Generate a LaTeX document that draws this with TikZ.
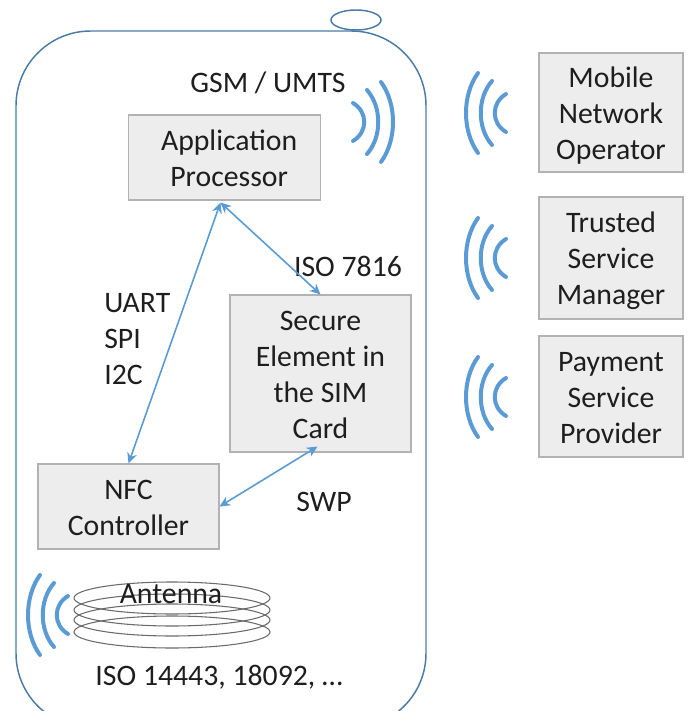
\documentclass[tikz,border=0pt]{standalone}
\usepackage{fontspec}
\setmainfont{Carlito}
\usetikzlibrary{arrows.meta}
\definecolor{boxfill}{HTML}{EDEDED}
\definecolor{boxline}{HTML}{B2B2B2}
\definecolor{wavec}{HTML}{5B9BD5}
\definecolor{phonec}{HTML}{4A7BA6}
\definecolor{coilc}{HTML}{6A6A6A}
\definecolor{textc}{HTML}{1E1E1E}
\newcommand{\topln}{\rule{0pt}{20pt}}
\newcommand{\botln}{\rule[-4pt]{0pt}{4pt}}
\tikzset{
  x=0.75pt,y=-0.75pt,
  every node/.style={text=textc,font=\fontsize{22.3}{27}\selectfont,inner sep=0pt,align=center},
  box/.style={draw=boxline,fill=boxfill,line width=0.8pt},
  link/.style={draw=wavec,line width=1.2pt,{Stealth[length=8pt,width=7.5pt]}-{Stealth[length=8pt,width=7.5pt]}},
  phone/.style={draw=phonec,line width=1.1pt},
  coil/.style={draw=coilc,line width=0.8pt},
  pics/wave/.style={code={
    \draw[wavec,line width=3pt,line cap=round]
      (0,-19) .. controls (-15,-10) and (-15,10) .. (0,19)
      (-14,-32) .. controls (-29,-15) and (-29,15) .. (-14,32)
      (-28,-40) .. controls (-44,-18) and (-44,18) .. (-28,40);
  }}
}
\begin{document}
\begin{tikzpicture}
\useasboundingbox (0,0) rectangle (687,711);
\begin{scope}
\clip (0,0) rectangle (687,711);
\draw[phone,rounded corners=56pt] (16,31) rectangle (426,728);
\end{scope}
\draw[phone] (356,20) ellipse [x radius=25,y radius=10];
% coil
\foreach \cy in {598,610,620,632}
  \draw[coil] (172,\cy) ellipse [x radius=98,y radius=16];
% waves
\path (353,122) pic[xscale=-1] {wave};
\path (506,113) pic {wave};
\path (506,258) pic {wave};
\path (506,397) pic {wave};
\path (68,615) pic {wave};
% boxes
\node[box,minimum width=144.5pt,minimum height=63.75pt] (ap) at (224.5,157.5) {\topln\hspace*{7pt}Application\\\hspace*{7pt}Processor\botln};
\node[box,minimum width=135.75pt,minimum height=117.75pt] (se) at (320.5,373.5) {\topln Secure\\Element in\\the SIM\\Card\botln};
\node[box,minimum width=135.75pt,minimum height=63.75pt] (nfc) at (128.5,506.5) {\topln NFC\\Controller\botln};
\node[box,minimum width=108pt,minimum height=89.25pt] (mno) at (611,112.5) {\topln Mobile\\Network\\Operator\botln};
\node[box,minimum width=108pt,minimum height=91.5pt] (tsm) at (611,258) {\topln Trusted\\Service\\Manager\botln};
\node[box,minimum width=108pt,minimum height=90.75pt] (psp) at (611,396.5) {\topln Payment\\Service\\Provider\botln};
% labels
\node (gsm) at (268,83) {GSM / UMTS};
\node (iso7816) at (348,266) {ISO 7816};
\node[align=left,anchor=west] (bus) at (104,339) {UART\\SPI\\I2C};
\node (swp) at (324,502) {SWP};
\node (ant) at (171,594) {Antenna};
\node (iso14443) at (219,677) {ISO 14443, 18092, …};
% connectors
\draw[link] (ap.south) ++(-4,2) coordinate (apa) -- (nfc.north);
\draw[link] (apa) -- (se.north);
\draw[link] (se.south) ++(-3,-6) coordinate (sea) -- (nfc.east);
\end{tikzpicture}
\end{document}
